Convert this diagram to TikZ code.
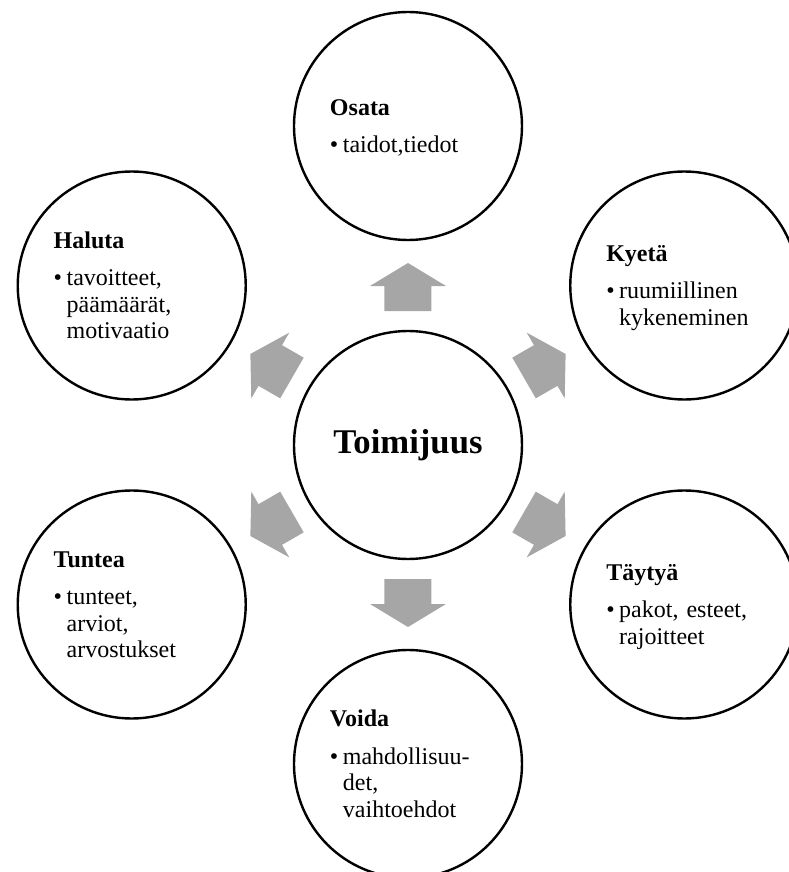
\documentclass[tikz,border=0pt]{standalone}
\usepackage{fontspec}
\setmainfont{Liberation Serif}
\definecolor{arrowgray}{RGB}{166,166,166}
\newcommand{\bul}[1]{\textbullet\kern3.4pt\begin{tabular}[t]{@{}l@{}}#1\end{tabular}}
\newcommand{\head}[1]{\textbf{\rule{0pt}{18pt}#1}}
\tikzset{
  ring/.style={circle, draw, line width=1.8pt, minimum size=171pt, inner sep=0pt},
  outer/.style={ring, text width=117pt, align=left, font=\fontsize{18}{20}\selectfont},
}
\begin{document}
\begin{tikzpicture}[x=0.75pt, y=0.75pt]
  \useasboundingbox (-408,-427) rectangle (381,445);
  \clip (-408,-427) rectangle (381,445);
  \coordinate (O) at (0,0);

  \node[ring, font=\fontsize{26}{30}\selectfont\bfseries] (toim) at (O) {Toimijuus};

  \node[outer] (osata) at (90:319) {\head{Osata}\\[8pt]\bul{taidot,tiedot}};
  \node[outer] (kyeta) at (30:319) {\head{Kyetä}\\[8pt]\bul{ruumiillinen\\kykeneminen}};
  \node[outer] (taytya) at (-30:319) {\head{Täytyä}\\[8pt]\bul{pakot, esteet,\\rajoitteet}};
  \node[outer] (voida) at (-90:319) {\head{Voida}\\[8pt]\bul{mahdollisuu-\\det,\\vaihtoehdot}};
  \node[outer] (tuntea) at (-150:319) {\head{Tuntea}\\[8pt]\bul{tunteet,\\arviot,\\arvostukset}};
  \node[outer] (haluta) at (150:319) {\head{Haluta}\\[8pt]\bul{tavoitteet,\\päämäärät,\\motivaatio}};

  \foreach \a in {90,30,-30,-90,-150,150}
    \fill[arrowgray, shift={(toim.center)}, rotate=\a] (134,-23.5) -- (159,-23.5) -- (159,-38) -- (182,0) -- (159,38) -- (159,23.5) -- (134,23.5) -- cycle;
\end{tikzpicture}
\end{document}
